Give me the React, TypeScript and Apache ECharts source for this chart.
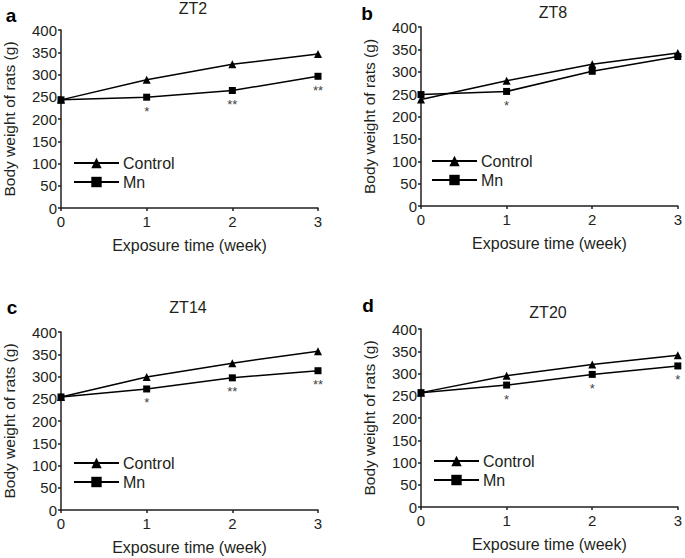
import React, { useEffect, useRef } from "react";
import * as echarts from "echarts";

const weeks = [0, 1, 2, 3];
const yTicks = [0, 50, 100, 150, 200, 250, 300, 350, 400];

const titles = ["ZT2", "ZT8", "ZT14", "ZT20"];
const panelLetters = ["a", "b", "c", "d"];

const controlZT2 = [243, 288, 323, 346];
const mnZT2 = [243, 249, 264, 296];
const sigZT2 = ["", "*", "**", "**"];

const controlZT8 = [238, 280, 317, 342];
const mnZT8 = [249, 256, 301, 334];
const sigZT8 = ["", "*", "", ""];

const controlZT14 = [254, 299, 330, 357];
const mnZT14 = [254, 272, 297, 313];
const sigZT14 = ["", "*", "**", "**"];

const controlZT20 = [257, 295, 320, 341];
const mnZT20 = [257, 274, 298, 317];
const sigZT20 = ["", "*", "*", "*"];

const controls = [controlZT2, controlZT8, controlZT14, controlZT20];
const mns = [mnZT2, mnZT8, mnZT14, mnZT20];
const sigs = [sigZT2, sigZT8, sigZT14, sigZT20];

const FONT = "Liberation Sans, Arial, sans-serif";
const INK = "#231f20";

const grids = [
  { left: 61, top: 30, width: 257, height: 178 },
  { left: 421, top: 27, width: 257, height: 179 },
  { left: 61, top: 332, width: 257, height: 178 },
  { left: 421, top: 329, width: 258, height: 178 },
];
const legendPos = [
  { left: 73, top: 155 },
  { left: 431, top: 153 },
  { left: 73, top: 455 },
  { left: 433, top: 453 },
];
const titlePos = [
  [193, 8],
  [553, 12],
  [188, 307],
  [548, 312],
];
const letterPos = [
  [11, 15],
  [367, 13],
  [12, 307],
  [368, 305],
];

export default function App() {
  const ref = useRef<HTMLDivElement>(null);
  useEffect(() => {
    if (!ref.current) return;
    const chart = echarts.init(ref.current, undefined, { renderer: "svg" });
    const xAxis: any[] = [];
    const yAxis: any[] = [];
    const series: any[] = [];
    const legend: any[] = [];
    const graphic: any[] = [];
    grids.forEach((g, i) => {
      xAxis.push({
        type: "value",
        gridIndex: i,
        min: 0,
        max: 3,
        interval: 1,
        name: "Exposure time (week)",
        nameLocation: "middle",
        nameGap: 29,
        nameTextStyle: { fontFamily: FONT, fontSize: 16, color: INK },
        axisLine: { show: true, lineStyle: { color: INK, width: 1.5 } },
        axisTick: { show: true, length: 3, lineStyle: { color: INK, width: 1.5 } },
        axisLabel: { fontFamily: FONT, fontSize: 15, color: INK, margin: 6 },
        splitLine: { show: false },
      });
      yAxis.push({
        type: "value",
        gridIndex: i,
        min: 0,
        max: 400,
        interval: 50,
        name: "Body weight of rats (g)",
        nameLocation: "middle",
        nameGap: 44,
        nameTextStyle: { fontFamily: FONT, fontSize: 15.5, color: INK },
        axisLine: { show: true, lineStyle: { color: INK, width: 1.5 } },
        axisTick: { show: true, length: 3, lineStyle: { color: INK, width: 1.5 } },
        axisLabel: {
          fontFamily: FONT,
          fontSize: 15,
          color: INK,
          margin: 4,
          formatter: (v: number) => (yTicks.includes(v) ? String(v) : ""),
        },
        splitLine: { show: false },
      });
      series.push({
        type: "line",
        name: "Control",
        xAxisIndex: i,
        yAxisIndex: i,
        data: weeks.map((w, k) => [w, controls[i][k]]),
        symbol: "triangle",
        symbolSize: [8, 8],
        lineStyle: { color: "#000", width: 1.5 },
        itemStyle: { color: "#000" },
        z: 3,
      });
      series.push({
        type: "line",
        name: "Mn",
        xAxisIndex: i,
        yAxisIndex: i,
        data: weeks.map((w, k) => ({
          value: [w, mns[i][k]],
          label: {
            show: sigs[i][k] !== "",
            position: "bottom",
            distance: 4,
            formatter: sigs[i][k],
            fontFamily: FONT,
            fontSize: 13,
            color: "#444",
          },
        })),
        symbol: "rect",
        symbolSize: 7,
        lineStyle: { color: "#000", width: 1.5 },
        itemStyle: { color: "#000" },
        z: 4,
      });
      legend.push({
        orient: "vertical",
        left: legendPos[i].left,
        top: legendPos[i].top,
        itemWidth: 45,
        itemHeight: 13,
        itemGap: 3,
        padding: 0,
        data: ["Control", "Mn"],
        selectedMode: false,
        textStyle: { fontFamily: FONT, fontSize: 16, color: INK, padding: [0, 0, 0, -1] },
      });
      graphic.push({
        type: "text",
        x: titlePos[i][0],
        y: titlePos[i][1],
        style: {
          text: titles[i],
          fontFamily: FONT,
          fontSize: 16,
          fill: INK,
          align: "center",
          verticalAlign: "middle",
        },
      });
      graphic.push({
        type: "text",
        x: letterPos[i][0],
        y: letterPos[i][1],
        style: {
          text: panelLetters[i],
          fontFamily: FONT,
          fontSize: 19,
          fontWeight: "bold",
          fill: "#000",
          align: "center",
          verticalAlign: "middle",
        },
      });
    });
    chart.setOption({
      animation: false,
      backgroundColor: "#fff",
      grid: grids.map((g) => ({ ...g, containLabel: false })),
      xAxis,
      yAxis,
      series,
      legend,
      graphic,
    });
    return () => chart.dispose();
  }, []);
  return (
    <div
      ref={ref}
      style={{ position: "fixed", left: 0, top: 0, width: 685, height: 558, background: "#fff" }}
    />
  );
}
